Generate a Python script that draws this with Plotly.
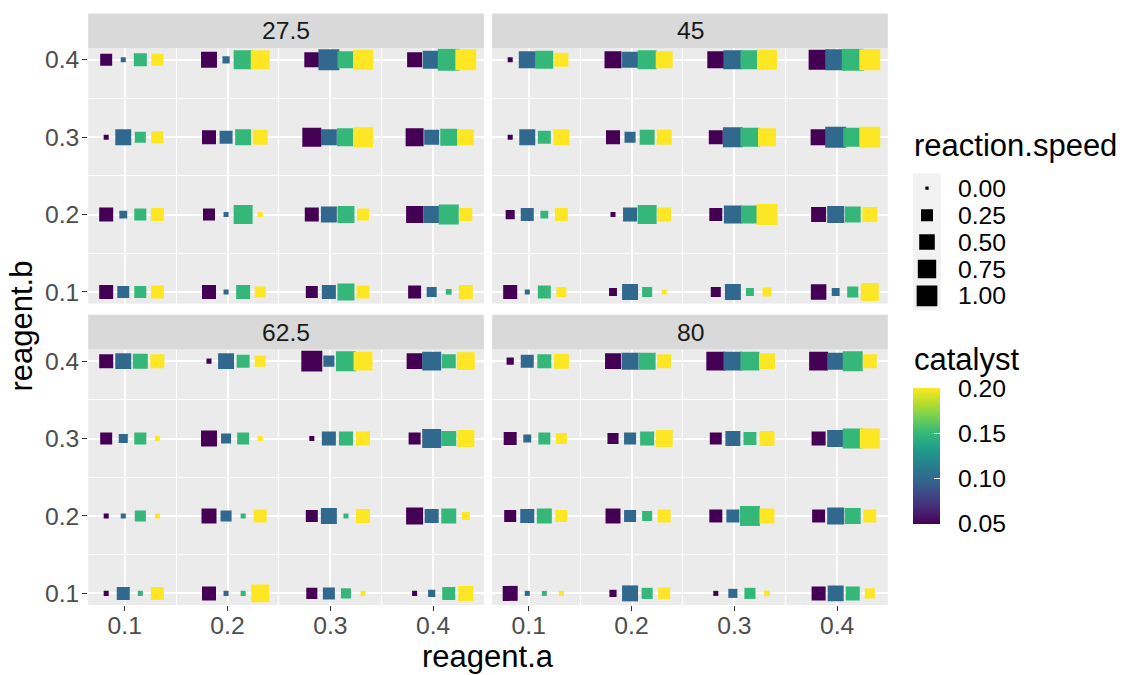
import numpy as np
import plotly.graph_objects as go

# ---------------- data ----------------
temperature = [27.5, 45, 62.5, 80]
reagent_a = [0.1, 0.2, 0.3, 0.4]
reagent_b = [0.4, 0.3, 0.2, 0.1]          # row order of the tables below
catalyst = [0.05, 0.10, 0.15, 0.20]
catalyst_breaks = [0.05, 0.10, 0.15, 0.20]
speed_breaks = [0.00, 0.25, 0.50, 0.75, 1.00]

# reaction.speed[row b][col a][catalyst]
speed_27_5 = [
    [[0.25, 0.01, 0.31, 0.25], [0.53, 0.05, 0.81, 0.81], [0.45, 1.03, 0.62, 0.92], [0.45, 0.71, 1.15, 1.03]],
    [[0.01, 0.53, 0.20, 0.25], [0.38, 0.31, 0.53, 0.45], [0.81, 0.53, 0.71, 0.92], [0.71, 0.45, 0.62, 0.53]],
    [[0.38, 0.07, 0.25, 0.31], [0.25, 0.01, 0.81, 0.01], [0.38, 0.53, 0.62, 0.25], [0.62, 0.62, 0.92, 0.31]],
    [[0.38, 0.25, 0.25, 0.31], [0.38, 0.01, 0.38, 0.20], [0.25, 0.38, 0.62, 0.31], [0.31, 0.15, 0.02, 0.38]],
]
speed_45 = [
    [[0.01, 0.62, 0.71, 0.38], [0.62, 0.53, 0.81, 0.62], [0.62, 0.81, 0.81, 0.92], [0.92, 1.03, 1.15, 1.03]],
    [[0.01, 0.53, 0.31, 0.53], [0.38, 0.20, 0.45, 0.45], [0.38, 0.92, 0.81, 0.71], [0.53, 1.03, 0.81, 1.03]],
    [[0.11, 0.31, 0.07, 0.31], [0.01, 0.38, 0.81, 0.38], [0.31, 0.71, 0.71, 1.03], [0.45, 0.62, 0.53, 0.45]],
    [[0.38, 0.01, 0.31, 0.15], [0.07, 0.53, 0.15, 0.01], [0.15, 0.53, 0.07, 0.11], [0.49, 0.07, 0.20, 0.71]],
]
speed_62_5 = [
    [[0.38, 0.53, 0.45, 0.38], [0.01, 0.53, 0.31, 0.20], [1.03, 0.20, 0.92, 0.81], [0.53, 0.81, 0.38, 0.71]],
    [[0.25, 0.11, 0.25, 0.01], [0.53, 0.15, 0.25, 0.01], [0.01, 0.38, 0.38, 0.38], [0.25, 0.81, 0.45, 0.62]],
    [[0.01, 0.01, 0.20, 0.01], [0.45, 0.20, 0.01, 0.31], [0.25, 0.53, 0.01, 0.38], [0.62, 0.38, 0.45, 0.07]],
    [[0.01, 0.31, 0.01, 0.31], [0.38, 0.01, 0.01, 0.71], [0.20, 0.25, 0.15, 0.01], [0.01, 0.05, 0.31, 0.45]],
]
speed_80 = [
    [[0.05, 0.31, 0.38, 0.45], [0.53, 0.62, 0.62, 0.38], [0.81, 0.81, 0.81, 0.53], [0.81, 0.62, 0.92, 0.38]],
    [[0.31, 0.07, 0.25, 0.20], [0.20, 0.25, 0.38, 0.62], [0.25, 0.45, 0.31, 0.45], [0.38, 0.62, 0.92, 0.92]],
    [[0.25, 0.38, 0.45, 0.25], [0.45, 0.25, 0.15, 0.31], [0.31, 0.31, 0.92, 0.45], [0.31, 0.62, 0.53, 0.31]],
    [[0.45, 0.01, 0.01, 0.01], [0.05, 0.53, 0.20, 0.25], [0.01, 0.11, 0.20, 0.02], [0.38, 0.53, 0.38, 0.15]],
]
facet_speed = [speed_27_5, speed_45, speed_62_5, speed_80]

# ---------------- styles / geometry ----------------
W, H = 1137, 675
FONT = "Liberation Sans, Arial, sans-serif"
TICK_SIZE = 24.7
TITLE_SIZE = 31
dodge = [-0.0180, -0.0014, 0.0152, 0.0318]   # horizontal dodge per catalyst
x_range = [0.0645, 0.4493]
y_range = [0.085, 0.415]
col_px = [(88.2, 483.8), (492.2, 887.8)]
row_px = [(46.5, 303.4), (349.6, 606.6)]
strip_h = 35.0
CMIN, CMAX = 0.05, 0.20


def px(x):
    return x / W


def py(y):
    return 1 - y / H


def speed_to_px(v):
    return 3.3 + 17.4 * np.sqrt(v)


fig = go.Figure()
layout = dict(
    width=W, height=H, margin=dict(l=0, r=0, t=0, b=0),
    paper_bgcolor="white", plot_bgcolor="#EBEBEB",
    font=dict(family=FONT, color="black"),
    showlegend=False,
)
shapes = []
annotations = []

cb_left, cb_right, cb_top, cb_bot = 913.3, 940.7, 389.0, 525.0

for f, sp in enumerate(facet_speed):
    r, c = divmod(f, 2)
    xs, ys, ss, cs = [], [], [], []
    for k, cat in enumerate(catalyst):
        for i, b in enumerate(reagent_b):
            for j, a in enumerate(reagent_a):
                xs.append(a + dodge[k])
                ys.append(b)
                ss.append(speed_to_px(sp[i][j][k]))
                cs.append(cat)
    sfx = "" if f == 0 else str(f + 1)
    marker = dict(symbol="square", size=ss, color=cs, colorscale="Viridis", opacity=1,
                  cmin=CMIN, cmax=CMAX, line=dict(width=0), showscale=(f == 0))
    if f == 0:
        marker["colorbar"] = dict(
            x=px(cb_left), xanchor="left", xpad=0, ypad=0,
            y=py((cb_top + cb_bot) / 2), yanchor="middle",
            len=cb_bot - cb_top, lenmode="pixels",
            thickness=cb_right - cb_left, thicknessmode="pixels",
            outlinewidth=0, tickvals=catalyst_breaks, showticklabels=False,
            ticks="inside", ticklen=5.5, tickwidth=1.2, tickcolor="white",
        )
    fig.add_trace(go.Scatter(x=xs, y=ys, mode="markers", marker=marker,
                             xaxis="x" + sfx, yaxis="y" + sfx,
                             hoverinfo="skip", showlegend=False))

    x0, x1 = col_px[c]
    y0, y1 = row_px[r]
    bottom = (r == 1)
    left = (c == 0)
    layout["xaxis" + sfx] = dict(
        domain=[px(x0), px(x1)], range=x_range, anchor="y" + sfx,
        tickmode="array", tickvals=reagent_a, ticktext=[f"{v:.1f}" for v in reagent_a],
        showticklabels=bottom, ticks="outside" if bottom else "",
        ticklen=5, tickwidth=1.4, tickcolor="#333333", ticklabelstandoff=-7,
        tickfont=dict(size=TICK_SIZE, color="#4D4D4D", family=FONT),
        showgrid=True, gridcolor="white", gridwidth=1.6,
        minor=dict(tickmode="array",
                   tickvals=[(reagent_a[q] + reagent_a[q + 1]) / 2 for q in range(3)],
                   showgrid=True, gridcolor="white", gridwidth=0.8, ticks=""),
        zeroline=False, showline=False, fixedrange=True,
    )
    layout["yaxis" + sfx] = dict(
        domain=[py(y1), py(y0)], range=y_range, anchor="x" + sfx,
        tickmode="array", tickvals=reagent_b, ticktext=[f"{v:.1f}" for v in reagent_b],
        showticklabels=left, ticks="outside" if left else "",
        ticklen=5, tickwidth=1.4, tickcolor="#333333", ticklabelstandoff=-2,
        tickfont=dict(size=TICK_SIZE, color="#4D4D4D", family=FONT),
        showgrid=True, gridcolor="white", gridwidth=1.6,
        minor=dict(tickmode="array",
                   tickvals=[(reagent_b[q] + reagent_b[q + 1]) / 2 for q in range(3)],
                   showgrid=True, gridcolor="white", gridwidth=0.8, ticks=""),
        zeroline=False, showline=False, fixedrange=True,
    )
    # strip
    shapes.append(dict(type="rect", xref="paper", yref="paper",
                       x0=px(x0), x1=px(x1), y0=py(y0), y1=py(y0 - strip_h),
                       fillcolor="#D9D9D9", line=dict(width=0), layer="below"))
    annotations.append(dict(text=f"{temperature[f]:g}", xref="paper", yref="paper",
                            x=px((x0 + x1) / 2), y=py(y0 - strip_h / 2),
                            xanchor="center", yanchor="middle", showarrow=False,
                            font=dict(size=TICK_SIZE, color="#1A1A1A", family=FONT)))

# ---------------- size legend ----------------
key_l, key_r, key_t, key_b = 913.3, 940.7, 172.7, 310.0
first_c, step = 187.3, 27.1
span = step * (len(speed_breaks) - 1)
v_top = speed_breaks[0] - (first_c - key_t) / span * (speed_breaks[-1] - speed_breaks[0])
v_bot = speed_breaks[0] + (key_b - first_c) / span * (speed_breaks[-1] - speed_breaks[0])
layout["xaxis5"] = dict(domain=[px(key_l), px(key_r)], range=[0, 1], visible=False,
                        anchor="y5", fixedrange=True)
layout["yaxis5"] = dict(domain=[py(key_b), py(key_t)], range=[v_bot, v_top], visible=False,
                        anchor="x5", fixedrange=True)
shapes.append(dict(type="rect", xref="x5 domain", yref="y5 domain", x0=0, x1=1, y0=0, y1=1,
                   fillcolor="#F2F2F2", line=dict(width=0), layer="below"))
fig.add_trace(go.Scatter(x=[0.5] * len(speed_breaks), y=speed_breaks, mode="markers",
                         marker=dict(symbol="square", color="black", opacity=1,
                                     size=[speed_to_px(v) for v in speed_breaks],
                                     line=dict(width=0)),
                         xaxis="x5", yaxis="y5", hoverinfo="skip", showlegend=False))
for v in speed_breaks:
    annotations.append(dict(text=f"{v:.2f}", xref="paper", yref="y5", x=px(956), y=v,
                            xanchor="left", yanchor="middle", showarrow=False,
                            font=dict(size=TICK_SIZE, color="black", family=FONT)))

annotations.append(dict(text="reaction.speed", xref="paper", yref="paper",
                        x=px(912), y=py(144.3), xanchor="left", yanchor="middle",
                        showarrow=False, font=dict(size=TITLE_SIZE, color="black", family=FONT)))

# ---------------- colour bar extras ----------------
annotations.append(dict(text="catalyst", xref="paper", yref="paper",
                        x=px(912), y=py(359.3), xanchor="left", yanchor="middle",
                        showarrow=False, font=dict(size=TITLE_SIZE, color="black", family=FONT)))
for v in catalyst_breaks:
    ypx = cb_bot - (v - CMIN) / (CMAX - CMIN) * (cb_bot - cb_top)
    annotations.append(dict(text=f"{v:.2f}", xref="paper", yref="paper", x=px(956), y=py(ypx),
                            xanchor="left", yanchor="middle", showarrow=False,
                            font=dict(size=TICK_SIZE, color="black", family=FONT)))
    shapes.append(dict(type="line", xref="paper", yref="paper",
                       x0=px(cb_left), x1=px(cb_left + 5.5), y0=py(ypx), y1=py(ypx),
                       line=dict(color="white", width=1.2), layer="above"))

# ---------------- axis titles ----------------
annotations.append(dict(text="reagent.a", xref="paper", yref="paper",
                        x=px((col_px[0][0] + col_px[1][1]) / 2), y=py(658),
                        xanchor="center", yanchor="middle", showarrow=False,
                        font=dict(size=TITLE_SIZE, color="black", family=FONT)))
annotations.append(dict(text="reagent.b", xref="paper", yref="paper",
                        x=px(22), y=py((row_px[0][0] + row_px[1][1]) / 2),
                        xanchor="center", yanchor="middle", textangle=-90, showarrow=False,
                        font=dict(size=TITLE_SIZE, color="black", family=FONT)))

layout["shapes"] = shapes
layout["annotations"] = annotations
fig.update_layout(**layout)
fig.write_html("out.html", config={"displayModeBar": False},
               post_script="document.body.style.margin='0px';")
